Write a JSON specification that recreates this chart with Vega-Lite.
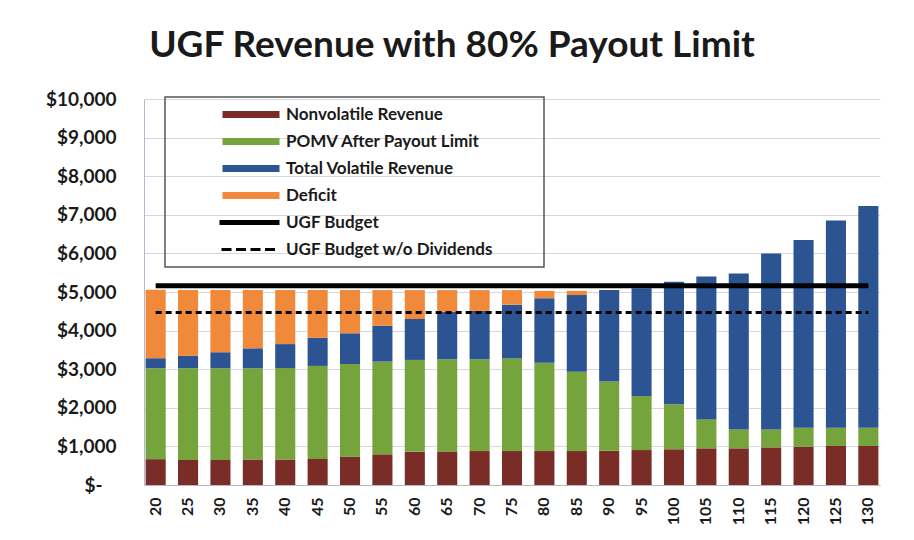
{
  "$schema": "https://vega.github.io/schema/vega-lite/v6.json",
  "width": 736,
  "height": 386,
  "autosize": {"type": "none"},
  "padding": {"left": 144, "top": 99, "right": 34, "bottom": 55},
  "background": "white",
  "title": {"text": "UGF Revenue with 80% Payout Limit", "font": "Lato", "fontSize": 37, "fontWeight": "bold", "color": "#1a1a1a", "anchor": "middle", "frame": "group", "dx": -60, "dy": 44, "offset": 40, "baseline": "alphabetic"},
  "config": {"view": {"stroke": null}},
  "datasets": {
    "bars": [
      {"age": 20, "series": "Nonvolatile Revenue", "rank": 1, "value": 670},
      {"age": 20, "series": "POMV After Payout Limit", "rank": 2, "value": 2355},
      {"age": 20, "series": "Total Volatile Revenue", "rank": 3, "value": 260},
      {"age": 20, "series": "Deficit", "rank": 4, "value": 1775},
      {"age": 25, "series": "Nonvolatile Revenue", "rank": 1, "value": 650},
      {"age": 25, "series": "POMV After Payout Limit", "rank": 2, "value": 2375},
      {"age": 25, "series": "Total Volatile Revenue", "rank": 3, "value": 325},
      {"age": 25, "series": "Deficit", "rank": 4, "value": 1700},
      {"age": 30, "series": "Nonvolatile Revenue", "rank": 1, "value": 650},
      {"age": 30, "series": "POMV After Payout Limit", "rank": 2, "value": 2375},
      {"age": 30, "series": "Total Volatile Revenue", "rank": 3, "value": 415},
      {"age": 30, "series": "Deficit", "rank": 4, "value": 1610},
      {"age": 35, "series": "Nonvolatile Revenue", "rank": 1, "value": 660},
      {"age": 35, "series": "POMV After Payout Limit", "rank": 2, "value": 2365},
      {"age": 35, "series": "Total Volatile Revenue", "rank": 3, "value": 515},
      {"age": 35, "series": "Deficit", "rank": 4, "value": 1510},
      {"age": 40, "series": "Nonvolatile Revenue", "rank": 1, "value": 660},
      {"age": 40, "series": "POMV After Payout Limit", "rank": 2, "value": 2370},
      {"age": 40, "series": "Total Volatile Revenue", "rank": 3, "value": 620},
      {"age": 40, "series": "Deficit", "rank": 4, "value": 1400},
      {"age": 45, "series": "Nonvolatile Revenue", "rank": 1, "value": 675},
      {"age": 45, "series": "POMV After Payout Limit", "rank": 2, "value": 2410},
      {"age": 45, "series": "Total Volatile Revenue", "rank": 3, "value": 730},
      {"age": 45, "series": "Deficit", "rank": 4, "value": 1235},
      {"age": 50, "series": "Nonvolatile Revenue", "rank": 1, "value": 735},
      {"age": 50, "series": "POMV After Payout Limit", "rank": 2, "value": 2400},
      {"age": 50, "series": "Total Volatile Revenue", "rank": 3, "value": 795},
      {"age": 50, "series": "Deficit", "rank": 4, "value": 1120},
      {"age": 55, "series": "Nonvolatile Revenue", "rank": 1, "value": 795},
      {"age": 55, "series": "POMV After Payout Limit", "rank": 2, "value": 2400},
      {"age": 55, "series": "Total Volatile Revenue", "rank": 3, "value": 930},
      {"age": 55, "series": "Deficit", "rank": 4, "value": 925},
      {"age": 60, "series": "Nonvolatile Revenue", "rank": 1, "value": 865},
      {"age": 60, "series": "POMV After Payout Limit", "rank": 2, "value": 2375},
      {"age": 60, "series": "Total Volatile Revenue", "rank": 3, "value": 1060},
      {"age": 60, "series": "Deficit", "rank": 4, "value": 750},
      {"age": 65, "series": "Nonvolatile Revenue", "rank": 1, "value": 870},
      {"age": 65, "series": "POMV After Payout Limit", "rank": 2, "value": 2385},
      {"age": 65, "series": "Total Volatile Revenue", "rank": 3, "value": 1235},
      {"age": 65, "series": "Deficit", "rank": 4, "value": 560},
      {"age": 70, "series": "Nonvolatile Revenue", "rank": 1, "value": 880},
      {"age": 70, "series": "POMV After Payout Limit", "rank": 2, "value": 2380},
      {"age": 70, "series": "Total Volatile Revenue", "rank": 3, "value": 1250},
      {"age": 70, "series": "Deficit", "rank": 4, "value": 540},
      {"age": 75, "series": "Nonvolatile Revenue", "rank": 1, "value": 880},
      {"age": 75, "series": "POMV After Payout Limit", "rank": 2, "value": 2400},
      {"age": 75, "series": "Total Volatile Revenue", "rank": 3, "value": 1390},
      {"age": 75, "series": "Deficit", "rank": 4, "value": 380},
      {"age": 80, "series": "Nonvolatile Revenue", "rank": 1, "value": 880},
      {"age": 80, "series": "POMV After Payout Limit", "rank": 2, "value": 2290},
      {"age": 80, "series": "Total Volatile Revenue", "rank": 3, "value": 1670},
      {"age": 80, "series": "Deficit", "rank": 4, "value": 190},
      {"age": 85, "series": "Nonvolatile Revenue", "rank": 1, "value": 880},
      {"age": 85, "series": "POMV After Payout Limit", "rank": 2, "value": 2055},
      {"age": 85, "series": "Total Volatile Revenue", "rank": 3, "value": 1985},
      {"age": 85, "series": "Deficit", "rank": 4, "value": 110},
      {"age": 90, "series": "Nonvolatile Revenue", "rank": 1, "value": 885},
      {"age": 90, "series": "POMV After Payout Limit", "rank": 2, "value": 1795},
      {"age": 90, "series": "Total Volatile Revenue", "rank": 3, "value": 2370},
      {"age": 90, "series": "Deficit", "rank": 4, "value": 0},
      {"age": 95, "series": "Nonvolatile Revenue", "rank": 1, "value": 905},
      {"age": 95, "series": "POMV After Payout Limit", "rank": 2, "value": 1400},
      {"age": 95, "series": "Total Volatile Revenue", "rank": 3, "value": 2790},
      {"age": 95, "series": "Deficit", "rank": 4, "value": 0},
      {"age": 100, "series": "Nonvolatile Revenue", "rank": 1, "value": 925},
      {"age": 100, "series": "POMV After Payout Limit", "rank": 2, "value": 1165},
      {"age": 100, "series": "Total Volatile Revenue", "rank": 3, "value": 3175},
      {"age": 100, "series": "Deficit", "rank": 4, "value": 0},
      {"age": 105, "series": "Nonvolatile Revenue", "rank": 1, "value": 950},
      {"age": 105, "series": "POMV After Payout Limit", "rank": 2, "value": 750},
      {"age": 105, "series": "Total Volatile Revenue", "rank": 3, "value": 3700},
      {"age": 105, "series": "Deficit", "rank": 4, "value": 0},
      {"age": 110, "series": "Nonvolatile Revenue", "rank": 1, "value": 950},
      {"age": 110, "series": "POMV After Payout Limit", "rank": 2, "value": 490},
      {"age": 110, "series": "Total Volatile Revenue", "rank": 3, "value": 4040},
      {"age": 110, "series": "Deficit", "rank": 4, "value": 0},
      {"age": 115, "series": "Nonvolatile Revenue", "rank": 1, "value": 975},
      {"age": 115, "series": "POMV After Payout Limit", "rank": 2, "value": 465},
      {"age": 115, "series": "Total Volatile Revenue", "rank": 3, "value": 4560},
      {"age": 115, "series": "Deficit", "rank": 4, "value": 0},
      {"age": 120, "series": "Nonvolatile Revenue", "rank": 1, "value": 995},
      {"age": 120, "series": "POMV After Payout Limit", "rank": 2, "value": 490},
      {"age": 120, "series": "Total Volatile Revenue", "rank": 3, "value": 4860},
      {"age": 120, "series": "Deficit", "rank": 4, "value": 0},
      {"age": 125, "series": "Nonvolatile Revenue", "rank": 1, "value": 1010},
      {"age": 125, "series": "POMV After Payout Limit", "rank": 2, "value": 475},
      {"age": 125, "series": "Total Volatile Revenue", "rank": 3, "value": 5365},
      {"age": 125, "series": "Deficit", "rank": 4, "value": 0},
      {"age": 130, "series": "Nonvolatile Revenue", "rank": 1, "value": 1010},
      {"age": 130, "series": "POMV After Payout Limit", "rank": 2, "value": 475},
      {"age": 130, "series": "Total Volatile Revenue", "rank": 3, "value": 5745},
      {"age": 130, "series": "Deficit", "rank": 4, "value": 0}
    ],
    "budget": [
      {"age": 20, "series": "UGF Budget", "value": 5165}, {"age": 25, "series": "UGF Budget", "value": 5165},
      {"age": 30, "series": "UGF Budget", "value": 5165}, {"age": 35, "series": "UGF Budget", "value": 5165},
      {"age": 40, "series": "UGF Budget", "value": 5165}, {"age": 45, "series": "UGF Budget", "value": 5165},
      {"age": 50, "series": "UGF Budget", "value": 5165}, {"age": 55, "series": "UGF Budget", "value": 5165},
      {"age": 60, "series": "UGF Budget", "value": 5165}, {"age": 65, "series": "UGF Budget", "value": 5165},
      {"age": 70, "series": "UGF Budget", "value": 5165}, {"age": 75, "series": "UGF Budget", "value": 5165},
      {"age": 80, "series": "UGF Budget", "value": 5165}, {"age": 85, "series": "UGF Budget", "value": 5165},
      {"age": 90, "series": "UGF Budget", "value": 5165}, {"age": 95, "series": "UGF Budget", "value": 5165},
      {"age": 100, "series": "UGF Budget", "value": 5165}, {"age": 105, "series": "UGF Budget", "value": 5165},
      {"age": 110, "series": "UGF Budget", "value": 5165}, {"age": 115, "series": "UGF Budget", "value": 5165},
      {"age": 120, "series": "UGF Budget", "value": 5165}, {"age": 125, "series": "UGF Budget", "value": 5165},
      {"age": 130, "series": "UGF Budget", "value": 5165}
    ],
    "nodiv": [
      {"age": 20, "series": "UGF Budget w/o Dividends", "value": 4470}, {"age": 25, "series": "UGF Budget w/o Dividends", "value": 4470},
      {"age": 30, "series": "UGF Budget w/o Dividends", "value": 4470}, {"age": 35, "series": "UGF Budget w/o Dividends", "value": 4470},
      {"age": 40, "series": "UGF Budget w/o Dividends", "value": 4470}, {"age": 45, "series": "UGF Budget w/o Dividends", "value": 4470},
      {"age": 50, "series": "UGF Budget w/o Dividends", "value": 4470}, {"age": 55, "series": "UGF Budget w/o Dividends", "value": 4470},
      {"age": 60, "series": "UGF Budget w/o Dividends", "value": 4470}, {"age": 65, "series": "UGF Budget w/o Dividends", "value": 4470},
      {"age": 70, "series": "UGF Budget w/o Dividends", "value": 4470}, {"age": 75, "series": "UGF Budget w/o Dividends", "value": 4470},
      {"age": 80, "series": "UGF Budget w/o Dividends", "value": 4470}, {"age": 85, "series": "UGF Budget w/o Dividends", "value": 4470},
      {"age": 90, "series": "UGF Budget w/o Dividends", "value": 4470}, {"age": 95, "series": "UGF Budget w/o Dividends", "value": 4470},
      {"age": 100, "series": "UGF Budget w/o Dividends", "value": 4470}, {"age": 105, "series": "UGF Budget w/o Dividends", "value": 4470},
      {"age": 110, "series": "UGF Budget w/o Dividends", "value": 4470}, {"age": 115, "series": "UGF Budget w/o Dividends", "value": 4470},
      {"age": 120, "series": "UGF Budget w/o Dividends", "value": 4470}, {"age": 125, "series": "UGF Budget w/o Dividends", "value": 4470},
      {"age": 130, "series": "UGF Budget w/o Dividends", "value": 4470}
    ]
  },
  "encoding": {
    "x": {"field": "age", "type": "ordinal", "scale": {"paddingInner": 0.38, "paddingOuter": 0.05},
      "axis": {"title": null, "labelAngle": -90, "labelFont": "Lato", "labelFontSize": 16, "labelFontWeight": "bold", "labelColor": "#1a1a1a", "labelPadding": 12, "ticks": false, "domainColor": "#b8b8c4", "grid": false}},
    "y": {"field": "value", "type": "quantitative", "scale": {"domain": [0, 10000], "nice": false},
      "axis": {"title": null, "values": [0, 1000, 2000, 3000, 4000, 5000, 6000, 7000, 8000, 9000, 10000], "labelExpr": "datum.value === 0 ? '$-\u00a0\u00a0\u00a0\u200b' : '$' + format(datum.value, ',')", "labelFont": "Lato", "labelFontSize": 19, "labelFontWeight": "bold", "labelColor": "#1a1a1a", "labelPadding": 28, "ticks": false, "domainColor": "#b8b8cc", "gridColor": "#d6d6de", "gridWidth": 1}}
  },
  "layer": [
    {
      "data": {"name": "bars"},
      "mark": {"type": "bar"},
      "encoding": {
        "y": {"field": "value", "type": "quantitative", "stack": "zero"},
        "order": {"field": "rank", "type": "quantitative"},
        "color": {"field": "series", "type": "nominal",
          "scale": {"domain": ["Nonvolatile Revenue", "POMV After Payout Limit", "Total Volatile Revenue", "Deficit", "UGF Budget", "UGF Budget w/o Dividends"],
                    "range": ["#7a2c27", "#75a43c", "#2d5492", "#f1893a", "#000000", "#000000"]},
          "legend": {
            "orient": "none", "legendX": 21, "legendY": -2, "title": null,
            "symbolType": "M-10.4,-0.7H1V0.7H-10.4Z", "symbolSize": 100, "symbolStrokeWidth": 0,
            "symbolOffset": 92, "labelOffset": 3, "padding": 9, "rowPadding": 9,
            "labelFont": "Lato", "labelFontSize": 17, "labelFontWeight": "bold", "labelColor": "#1a1a1a", "labelLimit": 400,
            "labelExpr": "datum.label === 'UGF Budget w/o Dividends' ? datum.label + '\u00a0\u00a0\u00a0\u00a0\u00a0\u00a0\u00a0\u00a0\u00a0\u00a0\u200b' : datum.label",
            "strokeColor": "#555555",
            "encode": {
              "symbols": {"update": {
                "shape": {"signal": "datum.value === 'UGF Budget w/o Dividends' ? 'M-10.6,-0.3H-8.6V0.3H-10.6Z M-7.7,-0.3H-5.7V0.3H-7.7Z M-4.8,-0.3H-2.8V0.3H-4.8Z M-1.9,-0.3H0.1V0.3H-1.9Z' : datum.value === 'UGF Budget' ? 'M-11,-0.5H1V0.5H-11Z' : 'M-10.4,-0.7H1V0.7H-10.4Z'"},
                "fill": {"signal": "scale('color', datum.value)"},
                "stroke": {"value": "transparent"},
                "opacity": {"value": 1}
              }},
              "legend": {"update": {"strokeWidth": {"value": 1.5}}}
            }
          }
        }
      }
    },
    {
      "data": {"name": "budget"},
      "mark": {"type": "line", "strokeWidth": 5},
      "encoding": {"color": {"field": "series", "type": "nominal"}}
    },
    {
      "data": {"name": "nodiv"},
      "mark": {"type": "line", "strokeWidth": 3, "strokeDash": [6, 4]},
      "encoding": {"color": {"field": "series", "type": "nominal"}}
    }
  ]
}
